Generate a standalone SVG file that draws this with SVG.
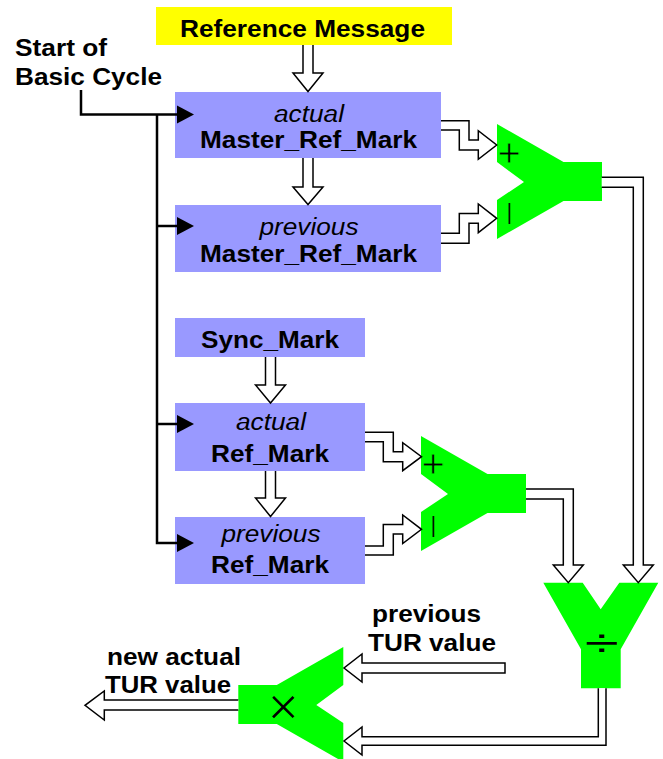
<svg xmlns="http://www.w3.org/2000/svg" width="663" height="759" viewBox="0 0 663 759">
<style>
.t{font-family:"Liberation Sans",Arial,sans-serif;font-size:23px;font-weight:bold;fill:#000}
.it{font-style:italic;font-weight:normal}
.op{font-family:"Liberation Sans",Arial,sans-serif;font-weight:normal;fill:#000;stroke:#00FF00;stroke-width:0.8}
.box{fill:#9999FF}
.grn{fill:#00FF00}
.pipe{fill:#fff;stroke:#000;stroke-width:1.5;stroke-linejoin:miter}
.wire{fill:none;stroke:#000;stroke-width:2.5}
</style>
<defs>
<polygon id="cmp" points="0,0 66.5,38 105,38 105,77 66.5,77 0,115 0,76 27,58 0,38"/>
<polygon id="tri" points="0,-9 17,0 0,9"/>
</defs>
<g id="reference-message">
<rect x="156" y="7" width="296" height="38" fill="#FFFF00"/>
<text class="t" x="302.5" y="36.5" text-anchor="middle" textLength="245" lengthAdjust="spacingAndGlyphs">Reference Message</text>
</g>
<g id="start-label">
<text class="t" x="15" y="56" textLength="92" lengthAdjust="spacingAndGlyphs">Start of</text>
<text class="t" x="15" y="85" textLength="147" lengthAdjust="spacingAndGlyphs">Basic Cycle</text>
</g>
<g id="actual-master">
<rect class="box" x="175" y="92" width="266" height="66"/>
<text class="t it" x="309" y="122" text-anchor="middle" textLength="70" lengthAdjust="spacingAndGlyphs">actual</text>
<text class="t" x="308.5" y="148" text-anchor="middle" textLength="217" lengthAdjust="spacingAndGlyphs">Master_Ref_Mark</text>
</g>
<g id="previous-master">
<rect class="box" x="175" y="205" width="266" height="67"/>
<text class="t it" x="309" y="235" text-anchor="middle" textLength="99" lengthAdjust="spacingAndGlyphs">previous</text>
<text class="t" x="308.5" y="262" text-anchor="middle" textLength="217" lengthAdjust="spacingAndGlyphs">Master_Ref_Mark</text>
</g>
<g id="sync-mark">
<rect class="box" x="175" y="318" width="190" height="39"/>
<text class="t" x="270" y="348" text-anchor="middle" textLength="138" lengthAdjust="spacingAndGlyphs">Sync_Mark</text>
</g>
<g id="actual-ref">
<rect class="box" x="175" y="403" width="190" height="68"/>
<text class="t it" x="271" y="430" text-anchor="middle" textLength="70" lengthAdjust="spacingAndGlyphs">actual</text>
<text class="t" x="270" y="461.5" text-anchor="middle" textLength="118" lengthAdjust="spacingAndGlyphs">Ref_Mark</text>
</g>
<g id="previous-ref">
<rect class="box" x="175" y="517" width="190" height="67"/>
<text class="t it" x="271" y="541.5" text-anchor="middle" textLength="99" lengthAdjust="spacingAndGlyphs">previous</text>
<text class="t" x="270" y="573" text-anchor="middle" textLength="118" lengthAdjust="spacingAndGlyphs">Ref_Mark</text>
</g>
<g id="subtract-master">
<use href="#cmp" class="grn" x="497" y="124"/>
<text class="op" x="509.3" y="166.5" font-size="40" text-anchor="middle">+</text>
<text class="op" x="509.3" y="219" font-size="22" text-anchor="middle" style="stroke-width:0.2">|</text>
</g>
<g id="subtract-ref">
<use href="#cmp" class="grn" x="421" y="436"/>
<text class="op" x="433.3" y="477.5" font-size="40" text-anchor="middle">+</text>
<text class="op" x="433.3" y="531.5" font-size="22" text-anchor="middle" style="stroke-width:0.2">|</text>
</g>
<g id="divide">
<polygon class="grn" points="543.3,582.7 582.7,582.7 600.7,609.3 619.3,582.7 658.3,582.7 620.7,649.3 620.7,688.3 581,688.3 581,649.3"/>
<text class="op" x="601.7" y="656" font-size="38" text-anchor="middle" textLength="34" lengthAdjust="spacingAndGlyphs" style="stroke:none">÷</text>
</g>
<g id="multiply">
<polygon class="grn" points="343.3,647 276.8,685 238.3,685 238.3,724 276.8,724 343.3,762 343.3,723 316.3,705 343.3,685"/>
<text class="op" x="283.3" y="725" font-size="54" text-anchor="middle" style="stroke-width:1.2">×</text>
</g>
<g id="tur-labels">
<text class="t" x="372" y="622" textLength="109" lengthAdjust="spacingAndGlyphs">previous</text>
<text class="t" x="368" y="651" textLength="128" lengthAdjust="spacingAndGlyphs">TUR value</text>
<text class="t" x="107" y="665" textLength="134" lengthAdjust="spacingAndGlyphs">new actual</text>
<text class="t" x="105" y="693.3" textLength="126" lengthAdjust="spacingAndGlyphs">TUR value</text>
</g>
<g id="connectors">
<polyline class="wire" points="81,90 81,114.5 178,114.5"/>
<polyline class="wire" points="157,114.5 157,543 178,543"/>
<line class="wire" x1="157" y1="226" x2="178" y2="226"/>
<line class="wire" x1="157" y1="424" x2="178" y2="424"/>
<use href="#tri" x="177" y="114.5"/>
<use href="#tri" x="177" y="226"/>
<use href="#tri" x="177" y="424"/>
<use href="#tri" x="177" y="543"/>
<path class="pipe" d="M303,45 V73 H293 L308,91.5 L323,73 H313 V45"/>
<path class="pipe" d="M303,158 V187 H293 L308,204.5 L323,187 H313 V158"/>
<path class="pipe" d="M265.5,357 V385 H255.5 L270.5,403 L285.5,385 H275.5 V357"/>
<path class="pipe" d="M265.5,471 V498 H255.5 L270.5,516.5 L285.5,498 H275.5 V471"/>
<path class="pipe" d="M441,120.7 H469 V140 H478.3 V130.7 L496.7,145 L478.3,159.3 V150 H459.3 V130 H441"/>
<path class="pipe" d="M441,233.3 H459.3 V213.5 H478.3 V204 L496.7,218.3 L478.3,232.6 V223.3 H469 V243.3 H441"/>
<path class="pipe" d="M365,432.3 H393.3 V451.7 H402.7 V442.7 L421.5,456.7 L402.7,470.7 V461.7 H383.3 V441.7 H365"/>
<path class="pipe" d="M365,546 H383.3 V524.5 H402.7 V515 L421.5,529.3 L402.7,543.5 V534 H393.3 V555 H365"/>
<path class="pipe" d="M601.7,177.3 H643.3 V565 H653.3 L638.3,582.7 L623.3,565 H633.3 V187.3 H601.7"/>
<path class="pipe" d="M526,489 H573.3 V565 H583.3 L568.3,582.7 L553.3,565 H563.3 V499 H526"/>
<path class="pipe" d="M598.3,688.3 V736.7 H362 V727 L344,741 L362,755 V745.3 H606 V688.3"/>
<path class="pipe" d="M505,663 H362 V654 L344,668 L362,682 V673 H505 Z"/>
<path class="pipe" d="M238.3,700 H104.3 V691 L85,705.3 L104.3,720 V710 H238.3"/>
</g>
</svg>
